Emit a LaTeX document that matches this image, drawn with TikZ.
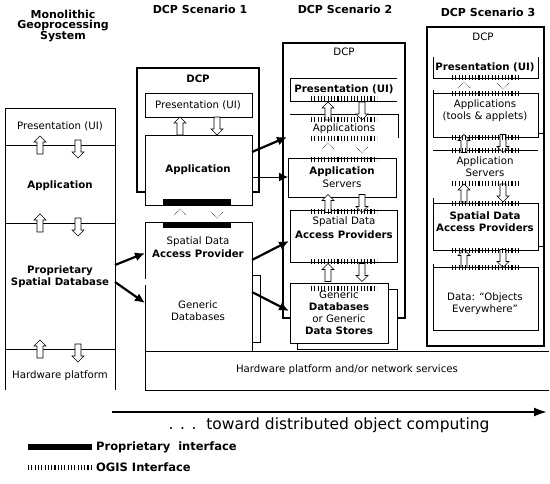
\documentclass[tikz,border=0pt]{standalone}
\usepackage{fontspec}
\setmainfont{DejaVu Sans}
\usetikzlibrary{arrows.meta}
\begin{document}
\begin{tikzpicture}[x=1pt,y=-1pt,
  thinln/.style={line width=0.8pt},
  dcpbox/.style={line width=2pt},
  lbl/.style={font=\fontsize{10.2}{12}\selectfont, align=center, inner sep=0pt},
  blbl/.style={lbl, font=\fontsize{10.2}{12}\selectfont\bfseries},
  ttl/.style={font=\fontsize{11}{12.5}\selectfont\bfseries, align=center, inner sep=0pt},
  lgd/.style={font=\fontsize{11.5}{13}\selectfont\bfseries, inner sep=0pt, anchor=west},
  ogis/.style={line width=5pt, dash pattern=on 1.1pt off 2.2pt},
  prop/.style={line width=6pt},
  bigarr/.style={line width=2.2pt, -{Latex[length=10pt,width=9pt]}},
  thinarr/.style={line width=1pt, -{Latex[length=9pt,width=9pt]}},
  uparr/.pic={\draw[line width=0.6pt, fill=white] (0,-9) -- (6,-3) -- (3,-3) -- (3,9) -- (-3,9) -- (-3,-3) -- (-6,-3) -- cycle;},
  dnarr/.pic={\draw[line width=0.6pt, fill=white] (0,9) -- (6,3) -- (3,3) -- (3,-9) -- (-3,-9) -- (-3,3) -- (-6,3) -- cycle;},
  uphead/.pic={\draw[line width=0.6pt, densely dotted] (-6,3) -- (0,-3) -- (6,3);},
  dnhead/.pic={\draw[line width=0.6pt, densely dotted] (-6,-3) -- (0,3) -- (6,-3);}
]
\useasboundingbox (0,0) rectangle (550,483);
\fill[white] (0,0) rectangle (550,483);

% ---------- titles
\node[ttl] (tmono) at (63,26) {Monolithic\\[-2pt]Geoprocessing\\[-2pt]System};
\node[ttl] (t1) at (200,9) {DCP Scenario 1};
\node[ttl] (t2) at (345,9) {DCP Scenario 2};
\node[ttl] (t3) at (488,12) {DCP Scenario 3};

% ---------- monolithic column
\draw[thinln] (5,390) -- (5,108) -- (115,108) -- (115,390);
\foreach \d in {145,223,349} {\draw[thinln] (5,\d) -- (115,\d);}
\node[lbl] (mpres) at (60,126) {Presentation (UI)};
\node[blbl] (mapp) at (60,186) {Application};
\node[blbl] (mdb) at (60,277) {Proprietary\\Spatial Database};
\node[lbl] (mhw) at (60,376) {Hardware platform};
\foreach \d in {145,223,349} {\pic at (40,\d) {uparr}; \pic at (78,\d+4) {dnarr};}
\coordinate (me1) at (115,265);
\coordinate (me2) at (115,282);

% ---------- hardware platform / network
\draw[thinln] (549,351) -- (145,351) -- (145,390) -- (549,390);
\node[lbl] (hw) at (347,370) {Hardware platform and/or network services};

% ---------- scenario 1
\draw[dcpbox] (137,68) rectangle (259,192);
\node[blbl] (d1) at (198,79) {DCP};
\draw[thinln, fill=white] (145,93) rectangle (252,117);
\node[lbl] (s1pres) at (198,105) {Presentation (UI)};
\draw[thinln, fill=white] (145,135) rectangle (252,205);
\node[blbl] (s1app) at (198,170) {Application};
\draw[prop] (163,202) -- (231,202);
\pic at (180,126) {uparr}; \pic at (217,126) {dnarr};
% back database box
\draw[thinln, fill=white] (240,275) rectangle (260,342);
\fill[white] (145,222) rectangle (252,351);
\draw[thinln] (145,279) -- (145,222) -- (252,222) -- (252,351);
\draw[thinln] (145,285) -- (145,351);
\draw[prop] (163,225) -- (231,225);
\pic at (180,212) {uphead}; \pic at (217,215) {dnhead};
\node[lbl] (s1sd) at (198,242) {Spatial Data};
\node[blbl] (s1ap) at (198,254) {Access Provider};
\node[lbl] (s1gen) at (198,311) {Generic\\Databases};
\coordinate (s1w1) at (145,253);
\coordinate (s1w2) at (145,303);
\coordinate (s1e1) at (252,152);
\coordinate (s1e2) at (252,177);
\coordinate (s1e3) at (252,260);
\coordinate (s1e4) at (252,292);

% ---------- scenario 2
\draw[dcpbox] (283,43) rectangle (405,318);
\node[lbl] (d2) at (344,52) {DCP};
\draw[thinln] (397,78) -- (290,78) -- (290,101) -- (397,101);
\node[blbl] (s2pres) at (344,89) {Presentation (UI)};
\draw[thinln] (290,114) -- (398,114) -- (398,138);
\node[lbl] (s2apps) at (344,129) {Applications};
\draw[thinln, fill=white] (288,158) rectangle (396,197);
\node[blbl] (s2as1) at (342,172) {Application};
\node[lbl] (s2as2) at (342,184) {Servers};
\draw[thinln, fill=white] (290,210) rectangle (397,262);
\node[lbl] (s2sd) at (344,222) {Spatial Data};
\node[blbl] (s2ap) at (344,235) {Access Providers};
\draw[thinln, fill=white] (297,289) rectangle (397,349);
\draw[thinln, fill=white] (290,283) rectangle (388,343);
\node[lbl] (s2g1) at (339,295) {Generic};
\node[blbl] (s2g2) at (339,307) {Databases};
\node[lbl] (s2g3) at (339,319) {or Generic};
\node[blbl] (s2g4) at (339,331) {Data Stores};
\foreach \y in {111,203.5,272.5} {\pic at (328,\y) {uparr}; \pic at (362,\y) {dnarr};}
\pic at (328,146) {uphead}; \pic at (362,150) {dnhead};
\foreach \y in {98.5,119.5,138.5,159,211,261,288} {\draw[ogis] (311,\y) -- (377,\y);}
\coordinate (s2w1) at (287,137);
\coordinate (s2w2) at (288,177);
\coordinate (s2w3) at (289,241);
\coordinate (s2w4) at (289,311);

% ---------- scenario 3
\draw[dcpbox] (427,27) rectangle (544,346);
\node[lbl] (d3) at (483,37) {DCP};
\draw[thinln] (433,57) -- (433,78) -- (538,78) -- (538,57);
\node[blbl] (s3pres) at (485,67) {Presentation (UI)};
\draw[thinln] (433,90) -- (433,137) -- (538,137) -- (538,93) -- (433,93);
\draw[thinln] (538,133) -- (544,133);
\node[lbl] (s3apps) at (485,111) {Applications\\(tools \& applets)};
\draw[thinln] (433,150) -- (538,150);
\node[lbl] (s3as) at (485,167) {Application\\Servers};
\draw[thinln] (433,198) -- (433,250) -- (538,250) -- (538,203) -- (433,203);
\draw[thinln] (538,246) -- (544,246);
\node[blbl] (s3sd) at (485,222) {Spatial Data\\Access Providers};
\draw[thinln] (433,264) -- (433,330) -- (538,330) -- (538,267) -- (433,267);
\node[lbl] (s3data) at (485,304) {Data: “Objects\\Everywhere”};
\pic at (464,85) {uphead}; \pic at (503,86) {dnhead};
\foreach \y in {143.5,193,258.5} {\pic at (464,\y) {uparr}; \pic at (503,\y) {dnarr};}
\foreach \y in {77,93,137,150,183,203,250,267} {\draw[ogis] (452,\y) -- (520,\y);}

% ---------- connectors
\draw[bigarr] (me1) -- (s1w1);
\draw[bigarr] (me2) -- (s1w2);
\draw[bigarr] (s1e1) -- (s2w1);
\draw[thinarr] (s1e2) -- (s2w2);
\draw[bigarr] (s1e3) -- (s2w3);
\draw[bigarr] (s1e4) -- (s2w4);

% ---------- bottom arrow and legend
\coordinate (ba0) at (112,412);
\coordinate (ba1) at (547,412);
\draw[line width=2pt, -{Latex[length=13pt,width=9pt]}] (ba0) -- (ba1);
\node[font=\fontsize{15.5}{17}\selectfont, inner sep=0pt] (toward) at (329,425) {. . .\ \ toward distributed object computing};
\coordinate (lg1a) at (28,446.5);
\coordinate (lg1b) at (92,446.5);
\draw[prop] (lg1a) -- (lg1b);
\node[lgd] (lgt1) at (96,447) {Proprietary\ \ interface};
\coordinate (lg2a) at (28,467);
\coordinate (lg2b) at (92,467);
\draw[ogis] (lg2a) -- (lg2b);
\node[lgd] (lgt2) at (96,467) {OGIS Interface};
\end{tikzpicture}
\end{document}
